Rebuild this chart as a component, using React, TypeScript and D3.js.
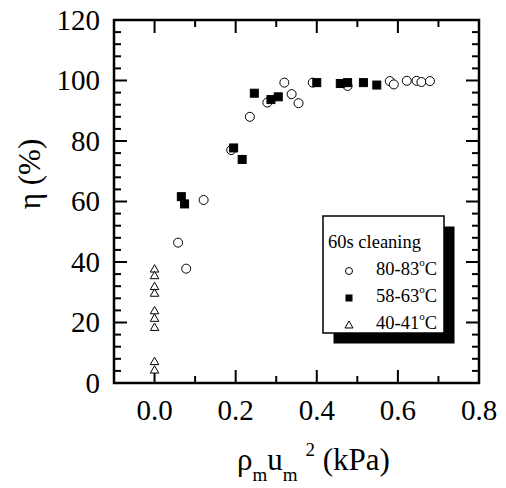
import React from "react";
import * as d3 from "d3";

const circleX = [0.058, 0.078, 0.121, 0.189, 0.235, 0.278, 0.32, 0.338, 0.355, 0.39, 0.476, 0.58, 0.59, 0.622, 0.646, 0.658, 0.679];
const circleY = [46.4, 37.8, 60.5, 77.0, 88.0, 92.7, 99.3, 95.5, 92.5, 99.3, 98.2, 99.8, 98.7, 99.9, 99.9, 99.5, 99.8];
const squareX = [0.066, 0.074, 0.195, 0.216, 0.246, 0.287, 0.305, 0.4, 0.458, 0.476, 0.515, 0.548];
const squareY = [61.6, 59.2, 77.7, 73.9, 95.8, 93.7, 94.6, 99.3, 99.0, 99.3, 99.3, 98.5];
const triangleX = [0, 0, 0, 0, 0, 0, 0, 0, 0];
const triangleY = [37.9, 35.7, 32.1, 29.9, 24.1, 21.6, 18.6, 7.3, 4.5];

const xTicks = [0.0, 0.2, 0.4, 0.6, 0.8];
const xMinor = [0.1, 0.3, 0.5, 0.7];
const yTicks = [0, 20, 40, 60, 80, 100, 120];
const yMinor = d3.range(0, 121, 4).filter((v) => v % 20 !== 0);

const legendTitle = "60s cleaning";
const seriesLabels = ["80-83", "58-63", "40-41"];

const FONT = "Liberation Serif";

export default function App() {
  const W = 506, H = 488;
  const L = 114, R = 479, T = 20, B = 383;
  const x = d3.scaleLinear().domain([-0.1, 0.8]).range([L, R]);
  const y = d3.scaleLinear().domain([0, 120]).range([B, T]);
  const major = 13, minor = 7;
  const tri = (cx: number, cy: number, s: number) => {
    const h = s * 0.87;
    return `M${cx},${cy - h / 2}L${cx + s / 2},${cy + h / 2}L${cx - s / 2},${cy + h / 2}Z`;
  };
  const lx = 323, ly = 216, lw = 121, lh = 117;
  const legendRows = [275, 302, 329];
  const ts = { fontFamily: FONT };
  return (
    <svg width={W} height={H} style={{ position: "absolute", left: 0, top: 0, background: "#fff" }}>
      <rect x={0} y={0} width={W} height={H} fill="#fff" />
      <g stroke="#000" strokeWidth={2}>
        {xTicks.map((t) => (
          <g key={"xt" + t}>
            <line x1={x(t)} x2={x(t)} y1={B} y2={B - major} />
            <line x1={x(t)} x2={x(t)} y1={T} y2={T + major} />
          </g>
        ))}
        {xMinor.map((t) => (
          <g key={"xm" + t}>
            <line x1={x(t)} x2={x(t)} y1={B} y2={B - minor} />
            <line x1={x(t)} x2={x(t)} y1={T} y2={T + minor} />
          </g>
        ))}
        {yTicks.map((t) => (
          <g key={"yt" + t}>
            <line x1={L} x2={L + major} y1={y(t)} y2={y(t)} />
            <line x1={R} x2={R - major} y1={y(t)} y2={y(t)} />
          </g>
        ))}
        {yMinor.map((t) => (
          <g key={"ym" + t}>
            <line x1={L} x2={L + minor} y1={y(t)} y2={y(t)} />
            <line x1={R} x2={R - minor} y1={y(t)} y2={y(t)} />
          </g>
        ))}
        <rect x={L} y={T} width={R - L} height={B - T} fill="none" strokeWidth={2.5} />
      </g>
      {xTicks.map((t) => (
        <text key={"xl" + t} style={ts} fontSize={29} x={x(t)} y={420} textAnchor="middle">{d3.format(".1f")(t)}</text>
      ))}
      {yTicks.map((t) => (
        <text key={"yl" + t} style={ts} fontSize={29} x={100} y={y(t)} dy="0.34em" textAnchor="end">{t}</text>
      ))}
      <text x={237} y={470} fontSize={31} fill="#000" style={ts}>
        <tspan>ρ</tspan>
        <tspan fontSize={19} dy={11}>m</tspan>
        <tspan dy={-11}>u</tspan>
        <tspan fontSize={19} dy={11}>m</tspan>
        <tspan fontSize={19} dx={8} dy={-25}>2</tspan>
        <tspan dy={14}> (kPa)</tspan>
      </text>
      <text transform="translate(40,174) rotate(-90)" textAnchor="middle" fontSize={31} fill="#000" style={ts}>η (%)</text>
      <g stroke="#000" strokeWidth={1}>
        {circleX.map((v, i) => (
          <circle key={"c" + i} cx={x(v)} cy={y(circleY[i])} r={4.5} fill="#fff" />
        ))}
        {squareX.map((v, i) => (
          <rect key={"s" + i} x={x(v) - 4} y={y(squareY[i]) - 4} width={8} height={8} fill="#000" />
        ))}
        {triangleX.map((v, i) => (
          <path key={"t" + i} d={tri(x(v), y(triangleY[i]), 8.5)} fill="#fff" />
        ))}
      </g>
      <rect x={lx + 10.5} y={ly + 10.5} width={lw} height={lh} fill="#000" />
      <rect x={lx} y={ly} width={lw} height={lh} fill="#fff" stroke="#000" strokeWidth={1.5} />
      <text x={328} y={248} fontSize={18.5} fill="#000" style={ts}>{legendTitle}</text>
      <circle cx={349} cy={legendRows[0] - 4} r={3.5} fill="#fff" stroke="#000" />
      <rect x={349 - 3.5} y={legendRows[1] - 4 - 3.5} width={7} height={7} fill="#000" />
      <path d={tri(349, legendRows[2] - 4.5, 8)} fill="#fff" stroke="#000" />
      {seriesLabels.map((s, i) => (
        <text key={"lg" + i} x={376} y={legendRows[i]} fontSize={18.5} fill="#000" style={ts}>
          {s}
          <tspan fontSize={11} dy={-9}>o</tspan>
          <tspan dy={9}>C</tspan>
        </text>
      ))}
    </svg>
  );
}
